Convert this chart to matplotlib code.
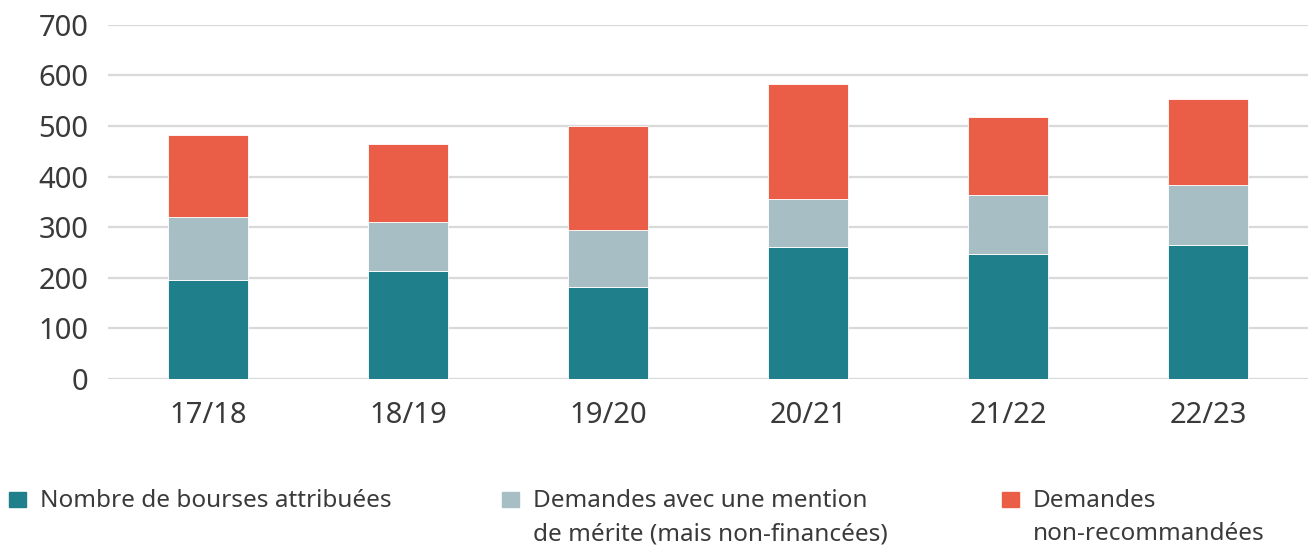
import matplotlib.pyplot as plt
import numpy as np
from matplotlib.patches import Rectangle

# data
years = ["17/18", "18/19", "19/20", "20/21", "21/22", "22/23"]
awarded = [195, 214, 182, 260, 246, 264]
merit = [125, 97, 113, 95, 118, 119]
not_recommended = [162, 153, 204, 227, 154, 171]

labels = ["Nombre de bourses attribuées",
          "Demandes avec une mention\nde mérite (mais non-financées)",
          "Demandes\nnon-recommandées"]
colors = ["#1F7F8B", "#A7BEC5", "#EA5E47"]

plt.rcParams['font.family'] = ['Noto Sans', 'DejaVu Sans']

fig = plt.figure(figsize=(13.08, 5.46), dpi=100)
ax = fig.add_axes([108/1308, 1 - 379/546, 1 - 108/1308, (379 - 24.7)/546])

x = np.arange(len(years))
bottom = np.zeros(len(years))
for vals, c in zip([awarded, merit, not_recommended], colors):
    ax.bar(x, vals, width=0.4, bottom=bottom, color=c, edgecolor="white",
           linewidth=0.6, zorder=3)
    bottom += np.array(vals)

ax.set_xlim(-0.5, 5.5)
ax.set_ylim(0, 700)
ax.set_yticks(range(0, 701, 100))
ax.set_xticks(x)
ax.set_xticklabels(years)
ax.grid(axis="y", color="#D9D9D9", linewidth=1.6, zorder=0)
ax.set_axisbelow(True)
for s in ax.spines.values():
    s.set_visible(False)
ax.tick_params(axis="both", length=0, labelsize=21, colors="#3A3A3A")
ax.tick_params(axis="y", pad=14)
ax.tick_params(axis="x", pad=16)

# legend drawn by hand
lx = [9, 502, 1002]
for xi, lab, c in zip(lx, labels, colors):
    fig.patches.append(Rectangle((xi/1308, 1 - 507/546), 17/1308, 15/546,
                                 transform=fig.transFigure, color=c))
    fig.text((xi + 31)/1308, 1 - 489/546, lab, fontsize=17.5, color="#3A3A3A",
             va="top", ha="left", linespacing=1.5)

fig.savefig("out.png", dpi=100)
